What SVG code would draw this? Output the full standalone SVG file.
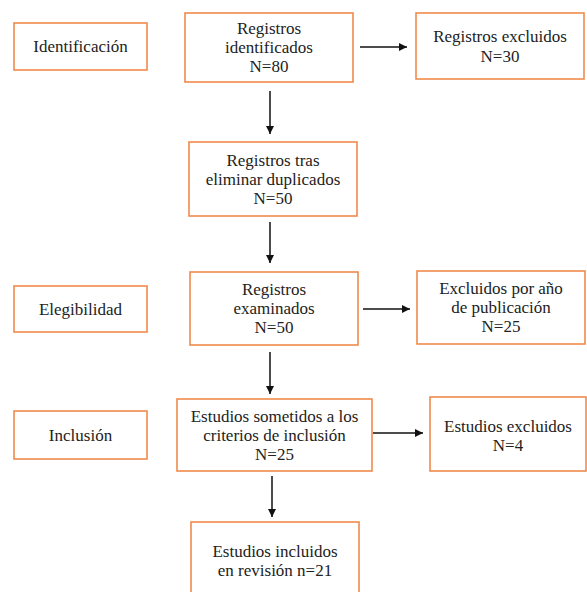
<svg xmlns="http://www.w3.org/2000/svg" width="587" height="592" viewBox="0 0 587 592">
<style>
.box{fill:#fff;stroke:#F08A4B;stroke-width:1.6}
.t{font-size:17px;fill:#222;text-anchor:middle}
.c{stroke:#111;stroke-width:1.5;fill:none;marker-end:url(#ah)}
</style>
<defs>
<marker id="ah" markerWidth="10" markerHeight="10" refX="8" refY="4" orient="auto" markerUnits="userSpaceOnUse">
<path d="M0,0 L8,4 L0,8 Z" fill="#111"/>
</marker>
</defs>
<rect width="587" height="592" fill="#fff"/>
<g font-family="Liberation Serif, DejaVu Serif, serif">
<g id="identificacion"><rect class="box" x="14" y="23" width="133" height="47"/><text class="t" x="80.5" y="52">Identificación</text></g>
<g id="elegibilidad"><rect class="box" x="14" y="286" width="133" height="46"/><text class="t" x="80.5" y="315">Elegibilidad</text></g>
<g id="inclusion"><rect class="box" x="14" y="411" width="133" height="48"/><text class="t" x="80.5" y="441">Inclusión</text></g>
<g id="n1"><rect class="box" x="185" y="13" width="168" height="69"/><text class="t" x="269" y="34">Registros</text><text class="t" x="269" y="53">identificados</text><text class="t" x="269" y="72">N=80</text></g>
<g id="n2"><rect class="box" x="416" y="13" width="168" height="66"/><text class="t" x="500" y="42">Registros excluidos</text><text class="t" x="500" y="62">N=30</text></g>
<g id="n3"><rect class="box" x="189" y="142" width="168" height="74"/><text class="t" x="273" y="166">Registros tras</text><text class="t" x="273" y="185">eliminar duplicados</text><text class="t" x="273" y="204">N=50</text></g>
<g id="n4"><rect class="box" x="190" y="272" width="168" height="73"/><text class="t" x="274" y="295">Registros</text><text class="t" x="274" y="314">examinados</text><text class="t" x="274" y="333">N=50</text></g>
<g id="n5"><rect class="box" x="417" y="271" width="168" height="73"/><text class="t" x="501" y="294">Excluidos por año</text><text class="t" x="501" y="313">de publicación</text><text class="t" x="501" y="332">N=25</text></g>
<g id="n6"><rect class="box" x="177" y="399" width="195" height="72"/><text class="t" x="274.5" y="422">Estudios sometidos a los</text><text class="t" x="274.5" y="441">criterios de inclusión</text><text class="t" x="274.5" y="460">N=25</text></g>
<g id="n7"><rect class="box" x="430" y="397" width="156" height="74"/><text class="t" x="508" y="432">Estudios excluidos</text><text class="t" x="508" y="451">N=4</text></g>
<g id="n8"><rect class="box" x="191" y="522" width="168" height="80"/><text class="t" x="275" y="557">Estudios incluidos</text><text class="t" x="275" y="576">en revisión n=21</text></g>
</g>
<g id="connectors">
<line class="c" x1="360" y1="47" x2="407" y2="47"/>
<line class="c" x1="270" y1="91" x2="270" y2="134"/>
<line class="c" x1="270" y1="222" x2="270" y2="263"/>
<line class="c" x1="363" y1="309" x2="410" y2="309"/>
<line class="c" x1="270" y1="352" x2="270" y2="394"/>
<line class="c" x1="373" y1="433" x2="423" y2="433"/>
<line class="c" x1="272" y1="476" x2="272" y2="517"/>
</g>
</svg>
